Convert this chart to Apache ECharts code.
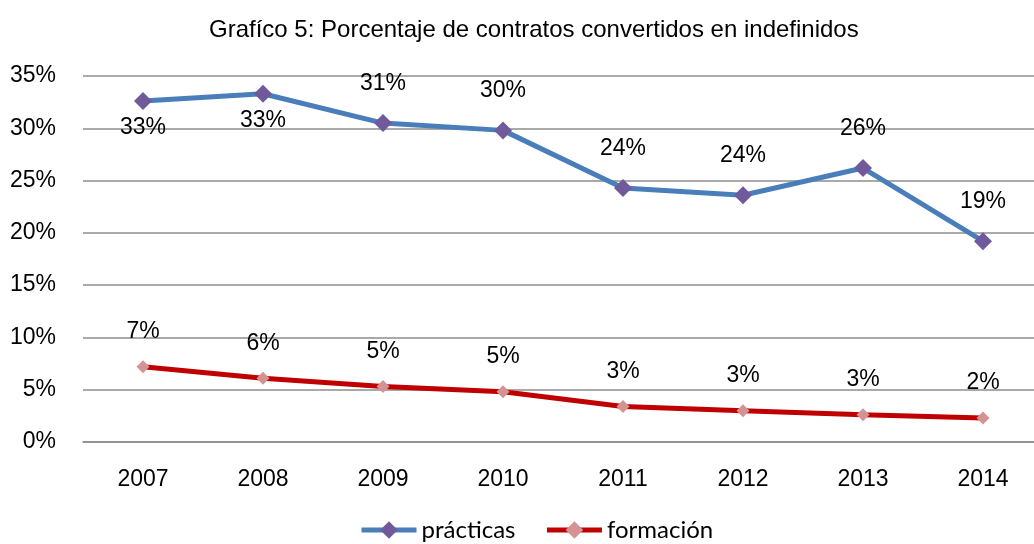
<!DOCTYPE html>
<html>
<head>
<meta charset="utf-8">
<script src="https://cdn.jsdelivr.net/npm/echarts@6/dist/echarts.min.js"></script>
<style>
  html, body { margin: 0; padding: 0; background: #fff; overflow: hidden; }
  /* plot runs past the right edge in the original, so the canvas is a bit wider than the window */
  #main { width: 1043px; height: 544px; }
</style>
</head>
<body>
<div id="main"></div>
<script>
var years = ['2007', '2008', '2009', '2010', '2011', '2012', '2013', '2014'];
var practicas = [32.6, 33.3, 30.5, 29.8, 24.3, 23.6, 26.2, 19.2];
var formacion = [7.2, 6.1, 5.3, 4.8, 3.4, 3.0, 2.6, 2.3];
// practicas labels under the point for these years
var labelBelow = ['2007', '2008'];

var myChart = echarts.init(document.getElementById('main'));

var font = 'Liberation Sans, Arial, sans-serif';

var practicasData = practicas.map(function (v, i) {
    var below = labelBelow.indexOf(years[i]) >= 0;
    return {
        value: v,
        label: { position: below ? 'bottom' : 'top', distance: below ? 6 : 19 }
    };
});

myChart.setOption({
    animation: false,
    title: {
        text: 'Grafíco 5: Porcentaje de contratos convertidos en indefinidos',
        left: 204,
        top: 13,
        textStyle: { fontFamily: font, fontSize: 24, fontWeight: 'normal', color: '#000' }
    },
    legend: {
        left: 354,
        top: 513,
        itemWidth: 55,
        itemHeight: 22,
        itemGap: 29,
        lineStyle: { width: 5 },
        textStyle: { fontFamily: 'Lato, sans-serif', fontSize: 24, color: '#000' },
        data: ['prácticas', 'formación']
    },
    grid: {
        left: 83,
        right: 0,
        top: 76,
        bottom: 102
    },
    xAxis: {
        type: 'category',
        data: years,
        axisTick: { show: false },
        axisLine: { lineStyle: { color: '#8c8c8c', width: 1.5 } },
        axisLabel: { margin: 26, fontFamily: font, fontSize: 23, color: '#000' }
    },
    yAxis: {
        type: 'value',
        min: 0,
        max: 35,
        interval: 5,
        axisLine: { show: false },
        axisTick: { show: false },
        splitLine: { lineStyle: { color: '#8c8c8c', width: 1.5 } },
        axisLabel: {
            margin: 27,
            fontFamily: font,
            fontSize: 23,
            color: '#000',
            formatter: '{value}%'
        }
    },
    series: [
        {
            name: 'prácticas',
            type: 'line',
            data: practicasData,
            symbol: 'diamond',
            symbolSize: 18,
            lineStyle: { color: '#4a7ebb', width: 5 },
            itemStyle: { color: '#705a9b' },
            label: {
                show: true,
                fontFamily: font,
                fontSize: 23,
                color: '#000',
                formatter: function (p) { return Math.round(p.value) + '%'; }
            },
            z: 3
        },
        {
            name: 'formación',
            type: 'line',
            data: formacion,
            symbol: 'diamond',
            symbolSize: 13,
            lineStyle: { color: '#c00000', width: 5 },
            itemStyle: { color: '#d49392' },
            label: {
                show: true,
                position: 'top',
                distance: 17,
                fontFamily: font,
                fontSize: 23,
                color: '#000',
                formatter: function (p) { return Math.round(p.value) + '%'; }
            },
            z: 2
        }
    ]
});
</script>
</body>
</html>
